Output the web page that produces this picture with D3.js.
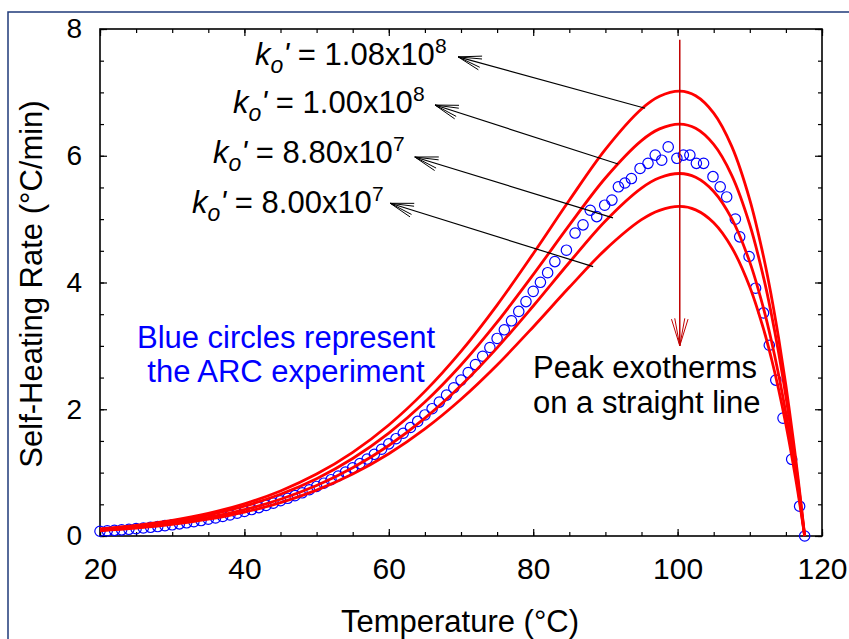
<!DOCTYPE html>
<html>
<head>
<meta charset="utf-8">
<script src="https://cdn.jsdelivr.net/npm/d3@7"></script>
<style>
  body { margin: 0; background: #fff; }
  svg { display: block; }
  text { font-family: "Liberation Sans", Arial, sans-serif; }
</style>
</head>
<body>
<svg id="chart" width="849" height="639"></svg>
<script>
// Temperature grid (°C) for the simulated self-heating curves
const temps = [20, 25, 30, 35, 40, 45, 50, 55, 60, 65, 70, 75, 80, 85, 90, 95, 97.5, 100.3,
  102.5, 105, 107.5, 110, 112, 113, 114, 115, 116, 116.5, 117, 117.6];

// Simulated self-heating rate (°C/min) for each pre-exponential factor k0'
const rateK080 = [0.083, 0.124, 0.183, 0.265, 0.377, 0.527, 0.724, 0.978, 1.298, 1.690, 2.158, 2.699,
  3.299, 3.924, 4.519, 4.991, 5.139, 5.200, 5.146, 4.943, 4.553, 3.929, 3.227, 2.797, 2.309, 1.759,
  1.141, 0.806, 0.451, 0];
const rateK088 = [0.091, 0.136, 0.201, 0.292, 0.415, 0.580, 0.796, 1.076, 1.428, 1.859, 2.374, 2.969,
  3.629, 4.316, 4.971, 5.490, 5.653, 5.720, 5.661, 5.437, 5.008, 4.322, 3.550, 3.077, 2.540, 1.935,
  1.255, 0.887, 0.496, 0];
const rateK100 = [0.104, 0.155, 0.229, 0.331, 0.471, 0.659, 0.905, 1.223, 1.623, 2.113, 2.698, 3.374,
  4.124, 4.905, 5.649, 6.239, 6.424, 6.500, 6.433, 6.179, 5.691, 4.911, 4.034, 3.496, 2.886, 2.199,
  1.426, 1.008, 0.564, 0];
const rateK108 = [0.112, 0.167, 0.247, 0.358, 0.509, 0.711, 0.977, 1.320, 1.752, 2.282, 2.913, 3.644,
  4.454, 5.297, 6.101, 6.738, 6.938, 7.020, 6.947, 6.673, 6.147, 5.304, 4.356, 3.776, 3.117, 2.375,
  1.540, 1.088, 0.609, 0];

// ARC experiment: measured temperature (°C) and self-heating rate (°C/min)
const arcTemp = [20, 21, 22, 23, 24, 25, 26, 27, 28, 29, 30, 31, 32, 33, 34, 35, 36, 37, 38, 39,
  40, 41, 42, 43, 44, 45, 46, 47, 48, 49, 50, 51, 52, 53, 54, 55, 56, 57, 58, 59, 60, 61, 62, 63,
  64, 65, 66, 67, 68, 69, 70, 71, 72, 73, 74, 75, 76, 77, 78, 79, 80, 81, 82,
  83.0, 84.6, 85.8, 86.9, 87.9, 88.8, 89.9, 90.9, 91.8, 92.7, 93.6, 94.8, 95.9, 96.9, 97.8, 98.7,
  99.9, 100.8, 101.7, 102.6, 103.6, 104.9, 105.9, 106.8, 108.0, 108.6, 109.9, 110.8, 111.9, 112.7,
  113.6, 114.6, 115.8, 116.9, 117.6];
const arcRate = [0.075, 0.082, 0.089, 0.097, 0.106, 0.116, 0.126, 0.137, 0.149, 0.163, 0.177, 0.192,
  0.208, 0.226, 0.244, 0.265, 0.286, 0.309, 0.333, 0.360, 0.388, 0.417, 0.448, 0.482, 0.518, 0.556,
  0.595, 0.637, 0.682, 0.730, 0.782, 0.833, 0.888, 0.947, 1.009, 1.076, 1.143, 1.214, 1.289, 1.369,
  1.454, 1.535, 1.621, 1.712, 1.808, 1.910, 2.009, 2.113, 2.223, 2.339, 2.460, 2.580, 2.705, 2.836,
  2.974, 3.117, 3.254, 3.396, 3.544, 3.699, 3.860, 4.003, 4.155,
  4.33, 4.51, 4.78, 4.91, 5.14, 5.04, 5.22, 5.30, 5.51, 5.57, 5.64, 5.80, 5.88, 6.01, 5.93, 6.14,
  5.96, 6.01, 6.01, 5.88, 5.88, 5.67, 5.51, 5.35, 5.00, 4.72, 4.41, 3.91, 3.52, 3.01, 2.46, 1.86,
  1.21, 0.47, 0];

// k0' labels (mantissa, power of ten), top curve first
const labelMantissa = ["1.08", "1.00", "8.80", "8.00"];
const labelPower = ["8", "8", "7", "7"];

// Axis ticks
const xTicks = [20, 40, 60, 80, 100, 120];
const yTicks = [0, 2, 4, 6, 8];
const xMinor = d3.range(20, 121, 5);
const yMinor = d3.range(0, 8.01, 0.5);

// ---------------------------------------------------------------------------
const svg = d3.select("#chart");
const W = 849, H = 639;
const plot = { left: 100, right: 822, top: 29, bottom: 536 };

const x = d3.scaleLinear().domain([20, 120]).range([plot.left, plot.right]);
const y = d3.scaleLinear().domain([0, 8]).range([plot.bottom, plot.top]);

// outer panel border
svg.append("rect")
  .attr("x", 8).attr("y", 12).attr("width", W + 20).attr("height", H + 20)
  .attr("fill", "none").attr("stroke", "#1f3a7a").attr("stroke-width", 1.5);

// axes with inward ticks on all four sides
function styleAxis(g) {
  g.select(".domain").remove();
  g.selectAll(".tick line").attr("stroke", "#000").attr("stroke-width", 1.2);
}
function addAxis(gen, tx, ty) {
  return svg.append("g").attr("transform", `translate(${tx},${ty})`).call(gen).call(styleAxis);
}
// minor ticks
addAxis(d3.axisBottom(x).tickValues(xMinor).tickSize(-4).tickFormat(""), 0, plot.bottom);
addAxis(d3.axisTop(x).tickValues(xMinor).tickSize(-4).tickFormat(""), 0, plot.top);
addAxis(d3.axisLeft(y).tickValues(yMinor).tickSize(-4).tickFormat(""), plot.left, 0);
addAxis(d3.axisRight(y).tickValues(yMinor).tickSize(-4).tickFormat(""), plot.right, 0);
// major ticks with labels
const xAx = addAxis(d3.axisBottom(x).tickValues(xTicks).tickSize(-7).tickPadding(22).tickFormat(d3.format("d")), 0, plot.bottom);
xAx.selectAll("text").attr("fill", "#000").style("font-size", "30px")
  .style("font-family", "'Liberation Sans', Arial, sans-serif");
addAxis(d3.axisTop(x).tickValues(xTicks).tickSize(-7).tickFormat(""), 0, plot.top);
const yAx = addAxis(d3.axisLeft(y).tickValues(yTicks).tickSize(-7).tickPadding(18).tickFormat(d3.format("d")), plot.left, 0);
yAx.selectAll("text").attr("fill", "#000").style("font-size", "28px")
  .style("font-family", "'Liberation Sans', Arial, sans-serif");
addAxis(d3.axisRight(y).tickValues(yTicks).tickSize(-7).tickFormat(""), plot.right, 0);

// plot frame
svg.append("rect")
  .attr("x", plot.left).attr("y", plot.top)
  .attr("width", plot.right - plot.left).attr("height", plot.bottom - plot.top)
  .attr("fill", "none").attr("stroke", "#000").attr("stroke-width", 1.6);

// ARC experiment points
svg.append("g").selectAll("circle")
  .data(arcTemp.map((t, i) => [t, arcRate[i]]))
  .join("circle")
  .attr("cx", d => x(d[0])).attr("cy", d => y(d[1])).attr("r", 5.2)
  .attr("fill", "none").attr("stroke", "#0000ff").attr("stroke-width", 1.2);

// simulated curves
const line = d3.line().x(d => x(d[0])).y(d => y(d[1])).curve(d3.curveCatmullRom.alpha(0.5));
const series = [rateK080, rateK088, rateK100, rateK108];
svg.append("g").selectAll("path")
  .data(series)
  .join("path")
  .attr("d", s => line(temps.map((t, i) => [t, s[i]])))
  .attr("fill", "none").attr("stroke", "#ff0000").attr("stroke-width", 2.8)
  .attr("stroke-linejoin", "round");

// open arrowhead drawn as a fan of strokes
function arrowHead(g, tip, from, len, color, width) {
  const ang = Math.atan2(from[1] - tip[1], from[0] - tip[0]);
  [-0.30, -0.18, 0.18, 0.30].forEach(a => {
    g.append("line")
      .attr("x1", tip[0]).attr("y1", tip[1])
      .attr("x2", tip[0] + len * Math.cos(ang + a)).attr("y2", tip[1] + len * Math.sin(ang + a))
      .attr("stroke", color).attr("stroke-width", width);
  });
}

// pointer arrows from each curve to its k0' label (data coordinates)
const arrowFrom = [[95.5, 6.75], [91.75, 5.87], [91.05, 5.02], [88.3, 4.25]];
const arrowTo = [[69.6, 7.56], [66.4, 6.80], [63.6, 5.98], [60.2, 5.25]];
const arrows = svg.append("g");
arrowFrom.forEach((f, i) => {
  const a = [x(f[0]), y(f[1])], b = [x(arrowTo[i][0]), y(arrowTo[i][1])];
  arrows.append("line")
    .attr("x1", a[0]).attr("y1", a[1]).attr("x2", b[0]).attr("y2", b[1])
    .attr("stroke", "#000").attr("stroke-width", 1.2);
  arrowHead(arrows, b, a, 24, "#000", 1);
});

// k0' labels
const labelPos = [[255, 65], [233, 113], [213, 163], [192, 213]];
labelMantissa.forEach((m, i) => {
  const t = svg.append("text")
    .attr("x", labelPos[i][0]).attr("y", labelPos[i][1])
    .style("font-size", "31px").attr("fill", "#000");
  t.append("tspan").style("font-style", "italic").text("k");
  t.append("tspan").style("font-style", "italic").style("font-size", "23px").attr("dy", 8).text("o");
  t.append("tspan").style("font-style", "italic").attr("dy", -8).text("'");
  t.append("tspan").text(" = " + m + "x10");
  t.append("tspan").style("font-size", "21px").attr("dy", -12).text(labelPower[i]);
});

// vertical arrow through the peak exotherms
const peakT = 100.3;
const vArrow = svg.append("g");
const vTop = [x(peakT), y(7.83)], vTip = [x(peakT), y(3.0)];
vArrow.append("line")
  .attr("x1", vTop[0]).attr("y1", vTop[1]).attr("x2", vTip[0]).attr("y2", vTip[1])
  .attr("stroke", "#c00000").attr("stroke-width", 1.5);
arrowHead(vArrow, vTip, vTop, 28, "#c00000", 1);

// notes
const blue = svg.append("text").attr("text-anchor", "middle").attr("fill", "#0000ff")
  .style("font-size", "31px");
blue.append("tspan").attr("x", 286).attr("y", 348).text("Blue circles represent");
blue.append("tspan").attr("x", 286).attr("y", 382).text("the ARC experiment");

const black = svg.append("text").attr("fill", "#000").style("font-size", "31px");
black.append("tspan").attr("x", 533).attr("y", 378).text("Peak exotherms");
black.append("tspan").attr("x", 533).attr("y", 413).text("on a straight line");

// axis titles
svg.append("text").attr("x", 460).attr("y", 632).attr("text-anchor", "middle")
  .style("font-size", "31px").attr("fill", "#000").text("Temperature (°C)");
svg.append("text").attr("transform", "translate(42,284) rotate(-90)").attr("text-anchor", "middle")
  .style("font-size", "31px").attr("fill", "#000").text("Self-Heating Rate (°C/min)");
</script>
</body>
</html>
